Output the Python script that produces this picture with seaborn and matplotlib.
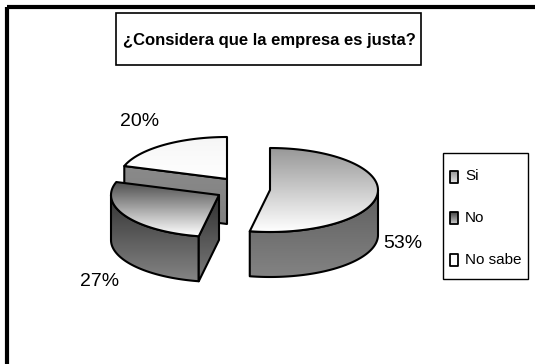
import numpy as np
import pandas as pd
import seaborn as sns
import matplotlib
matplotlib.use("Agg")
import matplotlib.pyplot as plt
from matplotlib.patches import Polygon, Rectangle

categories = ["Si", "No", "No sabe"]
shares = [53, 27, 20]
title = "¿Considera que la empresa es justa?"

sns.set_theme(style="white")
plt.rcParams["font.family"] = ["Liberation Sans", "DejaVu Sans"]

table = pd.DataFrame({"category": categories, "share": shares})
table["end"] = table["share"].cumsum() / table["share"].sum() * 2 * np.pi
table["start"] = table["end"].shift(fill_value=0.0)

# Ellipse of the pie and height of its wall, in canvas pixels
RX, RY, DEPTH = 108, 42, 45
apex = {"Si": (270, 190), "No": (219, 195), "No sabe": (227, 179)}
top_shade = {"Si": ("#989898", "#ffffff"), "No": ("#4c4c4c", "#ffffff"), "No sabe": ("#f6f6f6", "#ffffff")}
wall_shade = {"Si": ("#5e5e5e", "#838383"), "No": ("#333333", "#848484"), "No sabe": ("#808080", "#808080")}


def rim(cx, cy, a, b):
    t = np.linspace(a, b, 90)
    return cx + RX * np.sin(t), cy - RY * np.cos(t)


def shaded(ax, pts, colors, zorder, lw=1.5):
    """Fill a polygon with a vertical gradient and outline it in black."""
    pts = np.asarray(pts)
    cmap = matplotlib.colors.LinearSegmentedColormap.from_list("g", colors)
    x0, y0 = pts.min(axis=0)
    x1, y1 = pts.max(axis=0)
    im = ax.imshow(np.linspace(0, 1, 128)[:, None], cmap=cmap, vmin=0, vmax=1, aspect="auto",
                   extent=(x0, x1, y1, y0), zorder=zorder, interpolation="bilinear")
    poly = Polygon(pts, closed=True, fc="none", ec="black", lw=lw, zorder=zorder + 0.1, joinstyle="round")
    ax.add_patch(poly)
    im.set_clip_path(poly)


fig = plt.figure(figsize=(5.35, 3.64), dpi=100, facecolor="white")
ax = fig.add_axes([0, 0, 1, 1])
ax.set_axis_off()

z = 2
for name in ["No sabe", "No", "Si"]:
    row = table[table["category"] == name].iloc[0]
    cx, cy = apex[name]
    xs, ys = rim(cx, cy, row["start"], row["end"])
    top = np.column_stack([np.r_[cx, xs], np.r_[cy, ys]])
    # Outer wall: the part of the rim on the near half of the ellipse
    lo = max(row["start"], np.pi / 2)
    hi = min(row["end"], 3 * np.pi / 2)
    if hi > lo:
        wx, wy = rim(cx, cy, lo, hi)
        wall = np.column_stack([np.r_[wx, wx[::-1]], np.r_[wy, wy[::-1] + DEPTH]])
        shaded(ax, wall, wall_shade[name], z)
    if name == "No":
        # Cut face running from the centre out to the start of the wedge
        ex, ey = rim(cx, cy, row["start"], row["start"] + 1e-6)
        shaded(ax, [(cx, cy), (ex[0], ey[0]), (ex[0], ey[0] + DEPTH), (cx, cy + DEPTH)], ("#303030", "#7a7a7a"), z + 0.2)
    if name == "No sabe":
        ex, ey = rim(cx, cy, row["start"], row["start"] + 1e-6)
        shaded(ax, [(cx, cy), (ex[0], ey[0]), (ex[0], ey[0] + DEPTH), (cx, cy + DEPTH)], ("#8a8a8a", "#808080"), z + 0.2)
    shaded(ax, top, top_shade[name], z + 0.4)
    z += 1

label_at = {"Si": (403, 244), "No": (100, 282), "No sabe": (140, 122)}
for name, share in zip(categories, shares):
    ax.text(*label_at[name], f"{share}%", fontsize=14, color="black", ha="center", va="center", zorder=9)

# Outer frame, running off the right and bottom of the canvas
ax.add_patch(Rectangle((7, 7), 560, 400, fc="none", ec="black", lw=3, zorder=8))

# Title box
ax.add_patch(Rectangle((116, 13), 305, 52, fc="white", ec="black", lw=1.2, zorder=8))
ax.text(269.5, 41, title, fontsize=12, fontweight="bold", ha="center", va="center", color="black", zorder=9)

# Legend box with swatches
ax.add_patch(Rectangle((443, 153), 85, 126, fc="white", ec="black", lw=1, zorder=8))
swatches = {"Si": ("#8c8c8c", "#e0e0e0"), "No": ("#444444", "#cccccc"), "No sabe": ("#fbfbfb", "#ffffff")}
for name, y in zip(categories, [176.5, 218, 260]):
    shaded(ax, [(450, y - 6), (458, y - 6), (458, y + 6), (450, y + 6)], swatches[name], 10, lw=1.3)
    ax.text(465, y, name, fontsize=11, ha="left", va="center", color="black", zorder=11)

ax.set_xlim(0, 535)
ax.set_ylim(364, 0)
fig.savefig("out.png", dpi=100, facecolor="white")
